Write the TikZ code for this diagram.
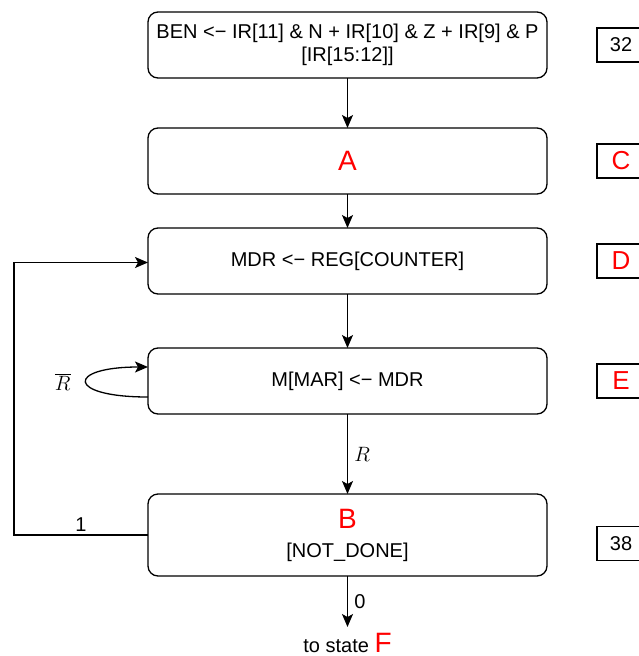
\documentclass[tikz,border=0pt]{standalone}
\usepackage{fontspec}
\setmainfont{Liberation Sans}
\usetikzlibrary{positioning,arrows.meta}

\newcommand{\redbig}[1]{{\fontsize{28}{30}\selectfont\color{red}#1}}
\newcommand{\redtag}[1]{{\fontsize{26}{28}\selectfont\color{red}#1}}

\tikzset{
	statebox/.style={draw, line width=1.3pt, outer sep=0pt, rounded corners=10pt, minimum width=399pt, minimum height=66pt, align=center},
	tagbox/.style={draw, line width=1.3pt, outer sep=0pt, minimum width=48pt, minimum height=34pt, font=\fontsize{20}{24}\selectfont},
	arr/.style={line width=1.3pt, -{Stealth[length=13pt,width=11pt,inset=3pt]}}
}

\begin{document}
\begin{tikzpicture}[x=1pt, y=-1pt, font=\fontsize{20}{23}\selectfont]
			\useasboundingbox (0,0) rectangle (639,656);

			\node[statebox](ben) at (347.5,45){BEN <− IR[11] \& N + IR[10] \& Z + IR[9] \& P\\{}[IR[15:12]]};
			\node[statebox, below=50pt of ben](a){\redbig{A}};
			\node[statebox, below=34pt of a](d){MDR <− REG[COUNTER]};
			\node[statebox, below=54pt of d](e){M[MAR] <− MDR};
			\node[statebox, below=80pt of e, minimum height=82pt](b){\redbig{B}\\[6pt]{}[NOT\_DONE]};
			\node[inner sep=6pt, outer sep=0pt, below=51pt of b](out){to state \redbig{F}};

			\node[tagbox, right=50pt of ben](n32){32};
			\node[tagbox, right=50pt of a](nc){\redtag{C}};
			\node[tagbox, right=50pt of d](nd){\redtag{D}};
			\node[tagbox, right=50pt of e](ne){\redtag{E}};
			\node[tagbox, right=50pt of b, yshift=-8.5pt](n38){38};

			\draw[arr] (ben) -- (a);
			\draw[arr] (a) -- (d);
			\draw[arr] (d) -- (e);
			\draw[arr] (e) -- node[right=3pt]{$R$} (b);
			\draw[arr] (b) -- node[right=3pt]{0} (out);
			\draw[arr] (b.west) -- node[above]{1} ++(-134,0) |- ([yshift=-1.5pt]d.west);
			\draw[arr] ([yshift=-16pt]e.west) .. controls +(-82,0) and +(-82,0) .. node[left=12pt]{$\overline{R}$} ([yshift=14pt]e.west);
		\end{tikzpicture}
\end{document}
